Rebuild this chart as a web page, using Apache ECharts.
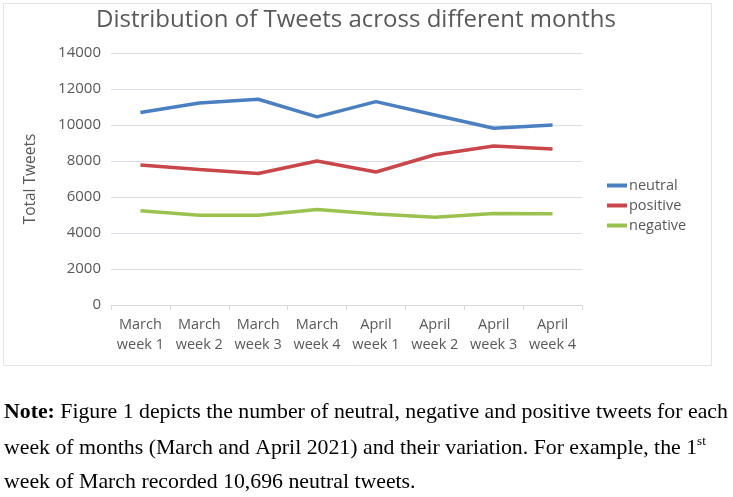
<!DOCTYPE html>
<html><head><meta charset="utf-8">
<script src="https://cdn.jsdelivr.net/npm/echarts@6/dist/echarts.min.js"></script>
<style>html,body{margin:0;padding:0;background:#fff}#c{width:733px;height:497px}</style>
</head><body><div id="c"></div>
<script>
const categories = ['March\nweek 1','March\nweek 2','March\nweek 3','March\nweek 4','April\nweek 1','April\nweek 2','April\nweek 3','April\nweek 4'];
const neutral  = [10696, 11220, 11430, 10450, 11300, 10560, 9820, 10000];
const positive = [7780, 7530, 7310, 8000, 7390, 8350, 8830, 8660];
const negative = [5240, 4990, 4990, 5300, 5050, 4880, 5090, 5070];
const yTicks = [0, 2000, 4000, 6000, 8000, 10000, 12000, 14000];
const FONT = 'Open Sans';
const SERIF = 'Liberation Serif';
const GRAY = '#595959';
const chart = echarts.init(document.getElementById('c'), null, {renderer:'canvas'});
const mk = (name, data, color) => ({
  name, type:'line', data, symbol:'none', smooth:false,
  lineStyle:{width:3.5, color}, itemStyle:{color}
});
const legIcon = 'path://M0,5h20v4h-20z';
chart.setOption({
  animation:false,
  backgroundColor:'#fff',
  textStyle:{fontFamily:FONT},
  title:{text:'Distribution of Tweets across different months', left:91, top:3,
    textStyle:{fontFamily:FONT, fontSize:24, fontWeight:'normal', color:GRAY}},
  legend:{orient:'vertical', left:602, top:173, itemWidth:20, itemHeight:14, itemGap:5,
    data:[{name:'neutral',icon:legIcon},{name:'positive',icon:legIcon},{name:'negative',icon:legIcon}],
    textStyle:{fontFamily:FONT, fontSize:14.5, color:GRAY, padding:[0,0,0,-3]}},
  grid:{left:111, right:151, top:53, bottom:192},
  xAxis:{type:'category', data:categories, boundaryGap:true,
    axisLine:{lineStyle:{color:'#d9d9d9', width:1}},
    axisTick:{show:true, length:5, lineStyle:{color:'#d9d9d9'}},
    axisLabel:{interval:0, margin:10, lineHeight:20, fontSize:14.5, color:GRAY, fontFamily:FONT}},
  yAxis:{type:'value', min:yTicks[0], max:yTicks[yTicks.length-1], interval:2000,
    name:'Total Tweets', nameLocation:'middle', nameGap:72, nameRotate:90,
    nameTextStyle:{fontFamily:FONT, fontSize:15.5, color:GRAY},
    axisLine:{show:false}, axisTick:{show:false},
    axisLabel:{margin:10, fontSize:15, color:GRAY, fontFamily:FONT, formatter:v => String(v)}},
  series:[mk('neutral', neutral, '#4a7fc1'), mk('positive', positive, '#c9474a'), mk('negative', negative, '#9bc24f')],
  graphic:[
    {type:'rect', shape:{x:3.5, y:3.5, width:708, height:362}, style:{fill:'none', stroke:'#e3e3e3', lineWidth:1}, silent:true},
    {type:'text', left:4, top:401, style:{
      text:'{b|Note:} Figure 1 depicts the number of neutral, negative and positive tweets for each',
      rich:{b:{fontWeight:'bold', fontFamily:SERIF, fontSize:21.8, fill:'#000'}},
      fontFamily:SERIF, fontSize:21.8, fill:'#000'}},
    {type:'text', left:4, top:435, style:{
      text:'week of months (March and April 2021) and their variation. For example, the 1{s|st}',
      rich:{s:{fontFamily:SERIF, fontSize:13, verticalAlign:'top', fill:'#000'}},
      fontFamily:SERIF, fontSize:21.8, lineHeight:26, fill:'#000'}},
    {type:'text', left:4, top:471, style:{
      text:'week of March recorded 10,696 neutral tweets.',
      fontFamily:SERIF, fontSize:21.8, fill:'#000'}}
  ]
});
</script></body></html>
